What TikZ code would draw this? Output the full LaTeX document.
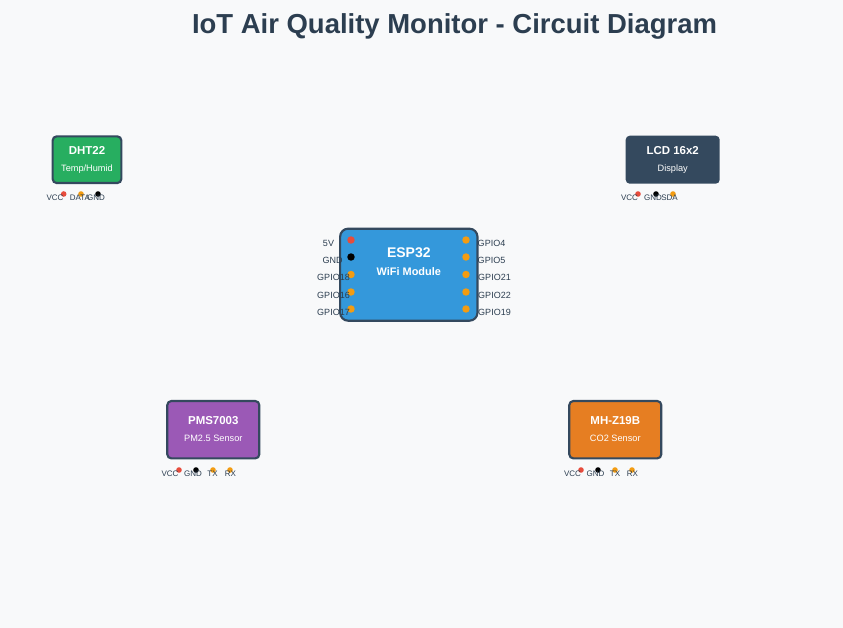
\documentclass[tikz,border=0pt]{standalone}
\usepackage{fontspec}
\setmainfont{Liberation Sans}
\usepackage{xcolor}
\usetikzlibrary{positioning}
\definecolor{pagebg}{HTML}{F8F9FA}
\definecolor{inkdark}{HTML}{2C3E50}
\definecolor{slate}{HTML}{34495E}
\definecolor{pinred}{HTML}{E74C3C}
\definecolor{pinorange}{HTML}{F39C12}
\definecolor{boxgreen}{HTML}{27AE60}
\definecolor{boxblue}{HTML}{3498DB}
\definecolor{boxpurple}{HTML}{9B59B6}
\definecolor{boxorange}{HTML}{E67E22}
\begin{document}
\begin{tikzpicture}[x=.75pt,y=-.75pt,
  module/.style={draw=slate,line width=1.6pt,rounded corners=3pt,inner sep=0pt},
  modname/.style={anchor=base,text=white,inner sep=0pt,font=\fontsize{8.6}{10}\selectfont\bfseries},
  modsub/.style={anchor=base,text=white,inner sep=0pt,font=\fontsize{6.9}{8}\selectfont},
  pin/.style={circle,inner sep=0pt,minimum size=4.2pt},
  bigpin/.style={circle,inner sep=0pt,minimum size=5.6pt},
  pinlabel/.style={anchor=base,text=inkdark,inner sep=0pt,font=\fontsize{6}{7}\selectfont},
  esplabel/.style={anchor=base,text=inkdark,inner sep=0pt,font=\fontsize{6.75}{8}\selectfont},
  ]
\fill[pagebg] (0,0) rectangle (843,628);
\useasboundingbox (0,0) rectangle (843,628);
\node[anchor=base,text=inkdark,inner sep=0pt,font=\fontsize{20.6}{25}\selectfont\bfseries] (title) at (454.5,33) {IoT Air Quality Monitor - Circuit Diagram};
% modules
\node[module,fill=boxgreen,minimum width=51.5pt,minimum height=35pt] (dht) at (87,159.7) {};
\node[module,draw=none,fill=slate,minimum width=70.5pt,minimum height=36pt] (lcd) at (672.7,159.7) {};
\node[module,fill=boxblue,minimum width=103pt,minimum height=69pt,rounded corners=6pt] (esp) at (408.8,274.7) {};
\node[module,fill=boxpurple,minimum width=69pt,minimum height=43pt] (pms) at (213.3,429.7) {};
\node[module,fill=boxorange,minimum width=69pt,minimum height=43pt] (mhz) at (615.3,429.7) {};
\node[modname] (dhtname) at (87,154) {DHT22};
\node[modsub] (dhtsub) at (87,171) {Temp/Humid};
\node[modname] (lcdname) at (672.7,154) {LCD 16x2};
\node[modsub] (lcdsub) at (672.7,171) {Display};
\node[modname,font=\fontsize{10.5}{12}\selectfont\bfseries] (espname) at (408.8,257) {ESP32};
\node[modsub,font=\fontsize{8.2}{10}\selectfont\bfseries] (espsub) at (408.8,275) {WiFi Module};
\node[modname] (pmsname) at (213.3,424) {PMS7003};
\node[modsub] (pmssub) at (213.3,441) {PM2.5 Sensor};
\node[modname] (mhzname) at (615.3,424) {MH-Z19B};
\node[modsub] (mhzsub) at (615.3,441) {CO2 Sensor};
% esp32 pins
\node[bigpin,fill=pinred] (esp5v) at (351,240) {};
\node[bigpin,fill=black] (espgnd) at (351,257) {};
\node[bigpin,fill=pinorange] (esp18) at (351,274.5) {};
\node[bigpin,fill=pinorange] (esp16) at (351,292) {};
\node[bigpin,fill=pinorange] (esp17) at (351,309) {};
\node[bigpin,fill=pinorange] (esp4) at (466,240) {};
\node[bigpin,fill=pinorange] (esp5) at (466,257) {};
\node[bigpin,fill=pinorange] (esp21) at (466,274.5) {};
\node[bigpin,fill=pinorange] (esp22) at (466,292) {};
\node[bigpin,fill=pinorange] (esp19) at (466,309) {};
\node[esplabel] (l5v) at (328.5,246) {5V};
\node[esplabel] (lgnd) at (332.5,263) {GND};
\node[esplabel] (l18) at (333.5,280) {GPIO18};
\node[esplabel] (l16) at (333.5,298) {GPIO16};
\node[esplabel] (l17) at (333.5,315) {GPIO17};
\node[esplabel] (l4) at (491.5,246) {GPIO4};
\node[esplabel] (l5) at (491.5,263) {GPIO5};
\node[esplabel] (l21) at (494.5,280) {GPIO21};
\node[esplabel] (l22) at (494.5,298) {GPIO22};
\node[esplabel] (l19) at (494.5,315) {GPIO19};
% dht22 pins
\node[pin,fill=pinred] (dhtvcc) at (63.7,194) {};
\node[pin,fill=pinorange] (dhtdata) at (81,194) {};
\node[pin,fill=black] (dhtgnd) at (98,194) {};
\node[pinlabel] at (55,200.5) {VCC};
\node[pinlabel] at (80,200.5) {DATA};
\node[pinlabel] at (96,200.5) {GND};
% lcd pins
\node[pin,fill=pinred] (lcdvcc) at (638,194) {};
\node[pin,fill=black] (lcdgnd) at (656,194) {};
\node[pin,fill=pinorange] (lcdsda) at (673,194) {};
\node[pinlabel] at (629.5,200.5) {VCC};
\node[pinlabel] at (653,200.5) {GND};
\node[pinlabel] at (669.5,200.5) {SDA};
% pms7003 pins
\node[pin,fill=pinred] (pmsvcc) at (179,470) {};
\node[pin,fill=black] (pmsgnd) at (196,470) {};
\node[pin,fill=pinorange] (pmstx) at (213,470) {};
\node[pin,fill=pinorange] (pmsrx) at (230,470) {};
\node[pinlabel] at (170,476.5) {VCC};
\node[pinlabel] at (193,476.5) {GND};
\node[pinlabel] at (212.5,476.5) {TX};
\node[pinlabel] at (230.5,476.5) {RX};
% mh-z19b pins
\node[pin,fill=pinred] (mhzvcc) at (581,470) {};
\node[pin,fill=black] (mhzgnd) at (598,470) {};
\node[pin,fill=pinorange] (mhztx) at (615,470) {};
\node[pin,fill=pinorange] (mhzrx) at (632,470) {};
\node[pinlabel] at (572.5,476.5) {VCC};
\node[pinlabel] at (595.5,476.5) {GND};
\node[pinlabel] at (615,476.5) {TX};
\node[pinlabel] at (632.5,476.5) {RX};
\end{tikzpicture}
\end{document}
